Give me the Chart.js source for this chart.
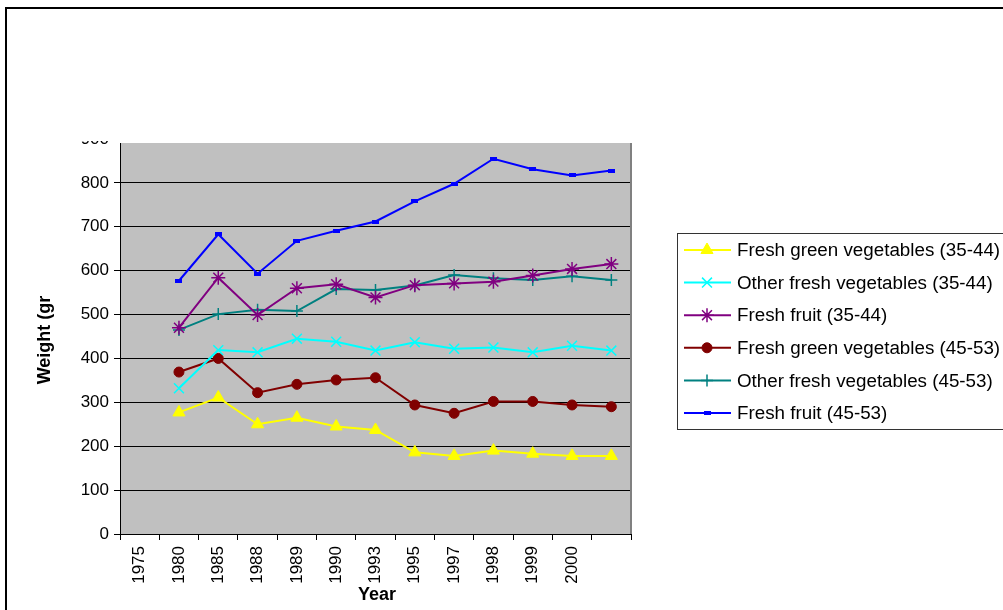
<!DOCTYPE html>
<html>
<head>
<meta charset="utf-8">
<script src="https://cdn.jsdelivr.net/npm/chart.js@4/dist/chart.umd.min.js"></script>
<style>
  html, body { margin: 0; padding: 0; background: #fff; }
  canvas { display: block; }
</style>
</head>
<body>
<canvas id="c" width="1003" height="610"></canvas>
<script>
// Category axis (last slot carries no label)
const years = ['1975', '1980', '1985', '1988', '1989', '1990', '1993', '1995', '1997', '1998', '1999', '2000', ''];

// Daily weights (grams) per series
const greenVeg3544 = [null, 277, 311, 250, 265, 245, 237, 186, 178, 190, 183, 178, 178];
const otherVeg3544 = [null, 332, 419, 414, 445, 438, 418, 437, 422, 425, 414, 429, 418];
const fruit3544    = [null, 470, 584, 499, 560, 569, 539, 567, 571, 575, 589, 604, 615];
const greenVeg4553 = [null, 369, 400, 322, 341, 351, 356, 294, 275, 302, 302, 294, 290];
const otherVeg4553 = [null, 465, 501, 511, 508, 558, 556, 566, 590, 583, 579, 587, 579];
const fruit4553    = [null, 577, 683, 593, 668, 691, 712, 758, 798, 855, 831, 817, 828];

const seriesLabels = [
  'Fresh green vegetables (35-44)',
  'Other fresh vegetables (35-44)',
  'Fresh fruit (35-44)',
  'Fresh green vegetables (45-53)',
  'Other fresh vegetables (45-53)',
  'Fresh fruit (45-53)'
];

const yTicks = [0, 100, 200, 300, 400, 500, 600, 700, 800, 900];

const FONT = "'Liberation Sans', Arial, sans-serif";

// small flat dash used as the blue marker
const dash = document.createElement('canvas');
dash.width = 7; dash.height = 4;
(function () { const g = dash.getContext('2d'); g.fillStyle = '#0000FF'; g.fillRect(0, 0, 7, 4); })();

function ds(label, data, color, style, radius, bw) {
  return {
    label, data,
    borderColor: color, backgroundColor: color,
    borderWidth: 2, tension: 0,
    pointStyle: style, pointRadius: radius, pointHoverRadius: radius,
    pointBorderWidth: bw, pointBorderColor: color, pointBackgroundColor: color
  };
}

const datasets = [
  ds(seriesLabels[0], greenVeg3544, '#FFFF00', 'triangle', 7, 1),
  ds(seriesLabels[1], otherVeg3544, '#00FFFF', 'crossRot', 7, 1.5),
  ds(seriesLabels[2], fruit3544,    '#800080', 'star', 7, 1.5),
  ds(seriesLabels[3], greenVeg4553, '#800000', 'circle', 5, 1),
  ds(seriesLabels[4], otherVeg4553, '#008080', 'cross', 6, 1.5),
  ds(seriesLabels[5], fruit4553,    '#0000FF', dash, 4, 1)
];

const frame = {
  id: 'frame',
  beforeDraw(chart) {
    const { ctx, chartArea: a } = chart;
    ctx.save();
    ctx.fillStyle = '#C0C0C0';
    ctx.fillRect(a.left, a.top, a.right - a.left, a.bottom - a.top);
    ctx.restore();
  },
  afterDraw(chart) {
    const { ctx, chartArea: a } = chart;
    ctx.save();
    // top of the plot is cut off
    ctx.fillStyle = '#fff';
    ctx.fillRect(0, 0, 118, 141);
    ctx.fillRect(118, 0, 540, 143);

    // right edge of plot
    ctx.strokeStyle = '#808080';
    ctx.lineWidth = 2;
    ctx.beginPath();
    ctx.moveTo(a.right, 143);
    ctx.lineTo(a.right, a.bottom);
    ctx.stroke();

    // axis titles
    ctx.fillStyle = '#000';
    ctx.font = 'bold 18px ' + FONT;
    ctx.textAlign = 'center';
    ctx.textBaseline = 'middle';
    ctx.fillText('Year', 377, 595);
    ctx.save();
    ctx.translate(45, 340);
    ctx.rotate(-Math.PI / 2);
    ctx.fillText('Weight (gr', 0, 0);
    ctx.restore();

    // legend
    const lx = 677, ly = 233, lh = 196;
    ctx.fillStyle = '#fff';
    ctx.fillRect(lx, ly, 1003 - lx, lh);
    ctx.strokeStyle = '#333';
    ctx.lineWidth = 1;
    ctx.strokeRect(lx + 0.5, ly + 0.5, 1003 - lx + 10, lh);
    chart.data.datasets.forEach((d, i) => {
      const y = 250 + i * 32.6;
      ctx.strokeStyle = d.borderColor;
      ctx.lineWidth = 2;
      ctx.beginPath();
      ctx.moveTo(684, y);
      ctx.lineTo(731, y);
      ctx.stroke();
      ctx.fillStyle = d.pointBackgroundColor;
      ctx.strokeStyle = d.pointBorderColor;
      ctx.lineWidth = d.pointBorderWidth;
      Chart.helpers.drawPoint(ctx, { pointStyle: d.pointStyle, radius: d.pointRadius, rotation: 0, borderWidth: d.pointBorderWidth }, 707, y);
      ctx.fillStyle = '#000';
      ctx.font = '18.8px ' + FONT;
      ctx.textAlign = 'left';
      ctx.textBaseline = 'middle';
      ctx.fillText(d.label, 737, y + 1);
    });

    // outer border
    ctx.fillStyle = '#000';
    ctx.fillRect(5, 7, 2, 610);
    ctx.fillRect(5, 7, 1003, 2);
    ctx.restore();
  }
};

new Chart(document.getElementById('c'), {
  type: 'line',
  data: { labels: years, datasets },
  options: {
    responsive: false,
    animation: false,
    devicePixelRatio: 1,
    layout: { padding: { left: 0, top: 139, right: 372, bottom: 0 } },
    plugins: { legend: { display: false }, title: { display: false }, tooltip: { enabled: false } },
    events: [],
    scales: {
      x: {
        type: 'category',
        offset: true,
        grid: { offset: true, drawOnChartArea: false, drawTicks: true, tickLength: 6, color: '#000', lineWidth: 1 },
        border: { color: '#000', width: 1 },
        ticks: { autoSkip: false, maxRotation: 90, minRotation: 90, padding: 6, color: '#000', font: { family: FONT, size: 17 } },
        afterFit: s => { s.height = 76; }
      },
      y: {
        min: 0, max: 900,
        afterBuildTicks: s => { s.ticks = yTicks.map(v => ({ value: v })); },
        grid: { color: '#000', lineWidth: 1, drawTicks: true, tickLength: 6 },
        border: { color: '#000', width: 1 },
        ticks: { padding: 5, color: '#000', font: { family: FONT, size: 17 } },
        afterFit: s => { s.width = 120; }
      }
    }
  },
  plugins: [frame]
});
</script>
</body>
</html>
